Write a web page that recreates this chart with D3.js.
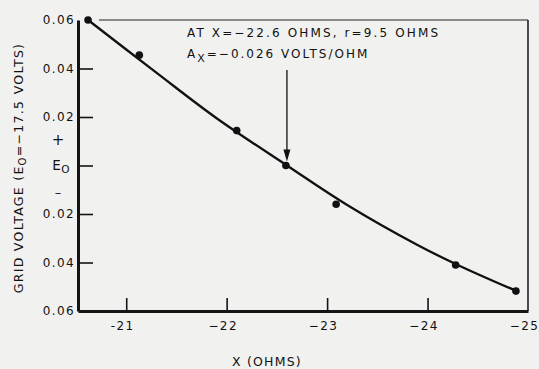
<!DOCTYPE html>
<html>
<head>
    <meta charset="UTF-8">
    <title>Grid Voltage vs X</title>
    <script src="https://cdnjs.cloudflare.com/ajax/libs/d3/7.8.5/d3.min.js"></script>
    <style>
        body {
            margin: 0;
            background: #f1f1f0;
        }
        svg text {
            font-family: "DejaVu Sans", sans-serif;
            fill: #111;
        }
        .axis .domain {
            stroke: #141414;
            stroke-width: 3px;
        }
        .axis .tick line {
            stroke: #141414;
            stroke-width: 1.6px;
        }
        .axis .tick text {
            font-size: 12px;
            letter-spacing: 1.4px;
        }
    </style>
</head>
<body>
    <div id="chart"></div>

    <script>
        // measured points
        const pointX = [-20.62, -21.13, -22.10, -22.59, -23.09, -24.28, -24.88];
        const pointY = [0.060, 0.0455, 0.0144, 0.000, -0.0160, -0.0410, -0.0518];

        // hand-drawn fitted curve
        const curveX = [-20.62, -21.3, -21.9, -22.6, -23.2, -23.9, -24.3, -24.87];
        const curveY = [0.060, 0.0383, 0.0195, 0.000, -0.0163, -0.0328, -0.0410, -0.0515];

        const xTicks = [-21, -22, -23, -24, -25];
        const yTicks = [0.06, 0.04, 0.02, 0, -0.02, -0.04, -0.06];
        const yTickLabels = ["0.06", "0.04", "0.02", "E", "0.02", "0.04", "0.06"];

        // arrow marking X = -22.6
        const arrowX = -22.6;
        const arrowY = [0.0394, 0.0017];

        const width = 539;
        const height = 369;

        const x = d3.scaleLinear().domain([-20.52, -25]).range([78, 528]);
        const y = d3.scaleLinear().domain([0.06, -0.06]).range([20, 311]);

        const svg = d3.select("#chart")
            .append("svg")
            .attr("width", width)
            .attr("height", height);

        // frame (top and right)
        svg.append("line")
            .attr("x1", 99).attr("x2", x(-25))
            .attr("y1", y(0.06)).attr("y2", y(0.06))
            .attr("stroke", "#222").attr("stroke-width", 1.2);
        svg.append("line")
            .attr("x1", x(-25)).attr("x2", x(-25))
            .attr("y1", y(0.06)).attr("y2", y(-0.06))
            .attr("stroke", "#222").attr("stroke-width", 1.6);

        // axes
        const yAxis = svg.append("g")
            .attr("class", "axis")
            .attr("transform", `translate(${x.range()[0]},0)`)
            .call(d3.axisLeft(y)
                .tickValues(yTicks)
                .tickSize(-15)
                .tickSizeOuter(0)
                .tickPadding(3)
                .tickFormat((d, i) => yTickLabels[i]));

        yAxis.selectAll(".tick")
            .filter(d => Math.abs(d) === 0.06)
            .select("line").remove();

        // E0 label with subscript
        yAxis.selectAll(".tick text")
            .filter(d => d === 0)
            .attr("x", -8)
            .style("letter-spacing", "0.5px")
            .style("font-size", "13.5px")
            .append("tspan")
            .attr("dy", "0.3em")
            .style("font-size", "10.5px")
            .text("O");

        svg.append("text")
            .attr("x", 58).attr("y", y(0.0105))
            .attr("text-anchor", "middle")
            .attr("dy", "0.35em")
            .style("font-size", "15px")
            .text("+");
        svg.append("text")
            .attr("x", 58).attr("y", y(-0.011))
            .attr("text-anchor", "middle")
            .attr("dy", "0.35em")
            .style("font-size", "13px")
            .text("\u2013");

        const xAxis = svg.append("g")
            .attr("class", "axis")
            .attr("transform", `translate(0,${y.range()[1]})`)
            .call(d3.axisBottom(x)
                .tickValues(xTicks)
                .tickSize(-13)
                .tickSizeOuter(0)
                .tickPadding(10)
                .tickFormat(d => d === -21 ? "-21" : "\u2212" + Math.abs(d)));

        xAxis.selectAll(".tick")
            .filter(d => d === -25)
            .select("line").remove();
        xAxis.selectAll(".tick text").attr("dx", "-4");

        // fitted curve
        const line = d3.line()
            .x(d => x(d[0]))
            .y(d => y(d[1]))
            .curve(d3.curveCatmullRom);

        svg.append("path")
            .datum(curveX.map((v, i) => [v, curveY[i]]))
            .attr("d", line)
            .attr("fill", "none")
            .attr("stroke", "#111")
            .attr("stroke-width", 2.3);

        // data points
        svg.selectAll("circle.pt")
            .data(pointX.map((v, i) => [v, pointY[i]]))
            .join("circle")
            .attr("class", "pt")
            .attr("cx", d => x(d[0]))
            .attr("cy", d => y(d[1]))
            .attr("r", 3.8)
            .attr("fill", "#111");

        // arrow
        const ax = x(arrowX);
        const tip = y(arrowY[1]);
        svg.append("line")
            .attr("x1", ax).attr("x2", ax)
            .attr("y1", y(arrowY[0])).attr("y2", tip - 6)
            .attr("stroke", "#111").attr("stroke-width", 1.3);
        svg.append("path")
            .attr("d", `M${ax - 3.5},${tip - 12} L${ax + 3.5},${tip - 12} L${ax},${tip} Z`)
            .attr("fill", "#111");

        // annotation
        svg.append("text")
            .attr("x", 187).attr("y", 37)
            .attr("textLength", 251)
            .attr("lengthAdjust", "spacing")
            .style("font-size", "12px")
            .text("AT  X=\u221222.6 OHMS, r=9.5 OHMS");

        const ann2 = svg.append("text")
            .attr("x", 187).attr("y", 58)
            .style("font-size", "12px")
            .style("letter-spacing", "2px");
        ann2.append("tspan").text("A");
        ann2.append("tspan").attr("dy", 4).style("font-size", "11px").text("X");
        ann2.append("tspan").attr("dy", -4).text("=\u22120.026 VOLTS/OHM");

        // axis titles
        svg.append("text")
            .attr("x", 267).attr("y", 366)
            .attr("text-anchor", "middle")
            .style("font-size", "12.5px")
            .style("letter-spacing", "1.2px")
            .text("X (OHMS)");

        const yTitle = svg.append("text")
            .attr("transform", "translate(23,168) rotate(-90)")
            .attr("text-anchor", "middle")
            .style("font-size", "12.5px")
            .style("letter-spacing", "1.3px");
        yTitle.append("tspan").text("GRID VOLTAGE (E");
        yTitle.append("tspan").attr("dy", 3).style("font-size", "10px").text("O");
        yTitle.append("tspan").attr("dy", -3).text("=\u221217.5 VOLTS)");
    </script>
</body>
</html>
